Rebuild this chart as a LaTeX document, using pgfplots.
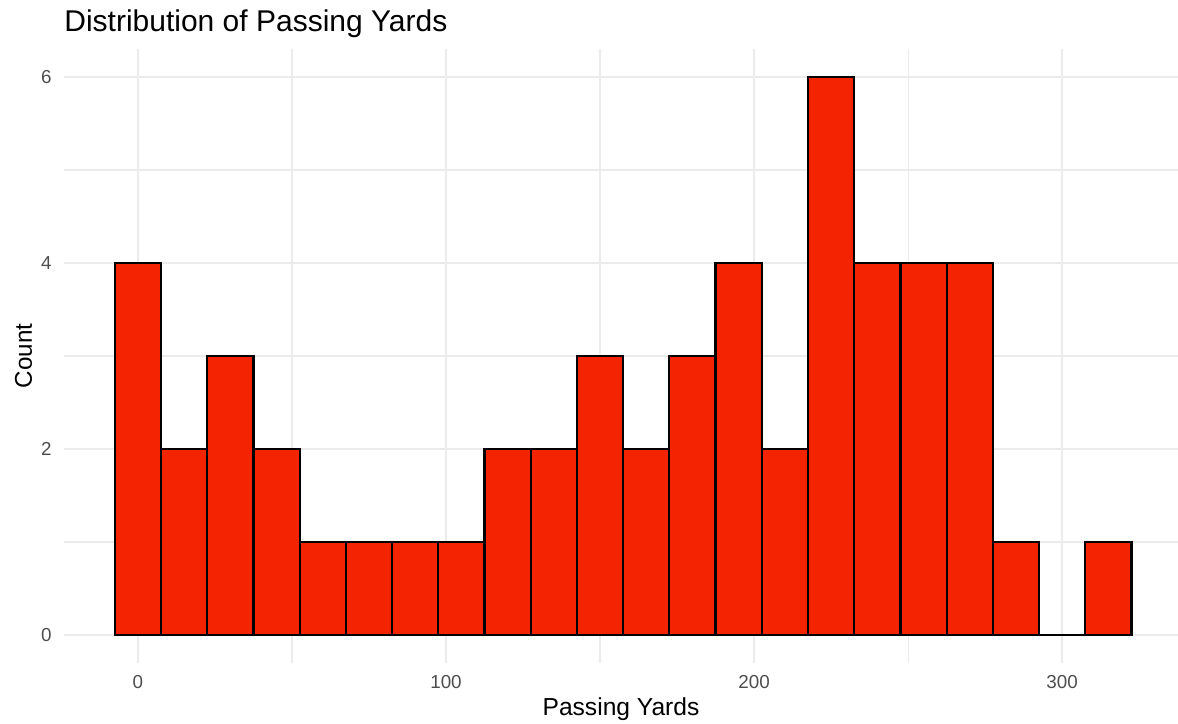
\documentclass[border=0pt]{standalone}
\usepackage{pgfplots}
\pgfplotsset{compat=1.18}
\usepackage{fontspec}
\setmainfont{Liberation Sans}
\definecolor{barred}{RGB}{244,35,2}
\definecolor{gridgray}{RGB}{235,235,235}
\definecolor{ticktext}{RGB}{77,77,77}
\pgfplotstableread{
edge count
-7.5 4
7.5 2
22.5 3
37.5 2
52.5 1
67.5 1
82.5 1
97.5 1
112.5 2
127.5 2
142.5 3
157.5 2
172.5 3
187.5 4
202.5 2
217.5 6
232.5 4
247.5 4
262.5 4
277.5 1
292.5 0
307.5 1
322.5 0
}\histdata
\begin{document}
\begin{tikzpicture}
\begin{axis}[
  name=ax,
  scale only axis,
  width=557pt, height=307pt,
  xmin=-24, xmax=337.6,
  ymin=-0.3, ymax=6.3,
  axis line style={draw=none},
  xtick={0,100,200,300},
  minor xtick={50,150,250},
  ytick={0,2,4,6},
  minor ytick={1,3,5},
  xmajorgrids, ymajorgrids, xminorgrids, yminorgrids,
  major grid style={color=gridgray, line width=1.2pt},
  minor grid style={color=gridgray, line width=0.6pt},
  major tick length=0pt, minor tick length=0pt,
  tick style={draw=none},
  tick label style={font=\fontsize{9.4}{11}\selectfont, text=ticktext},
  /pgf/number format/assume math mode=true,
  xticklabel style={inner sep=0pt, anchor=north, yshift=-6pt},
  yticklabel style={inner sep=0pt, anchor=east, xshift=-6pt},
  clip=false,
]
\addplot[ybar interval, fill=barred, draw=black, line width=1.1pt] table[x=edge, y=count] {\histdata};
\end{axis}
\node[anchor=base west, font=\fontsize{15}{18}\selectfont, inner sep=0pt] at ([yshift=8.5pt]ax.north west) {Distribution of Passing Yards};
\node[anchor=base, font=\fontsize{12.3}{14}\selectfont, inner sep=0pt] at ([yshift=-26pt]ax.south) {Passing Yards};
\node[anchor=base, rotate=90, font=\fontsize{12.1}{14}\selectfont, inner sep=0pt] at ([xshift=-16pt]ax.west) {Count};
\pgfresetboundingbox
\path[use as bounding box] ([xshift=-32pt, yshift=-30pt]ax.south west) rectangle ([yshift=24.5pt]ax.north east);
\end{tikzpicture}
\end{document}
